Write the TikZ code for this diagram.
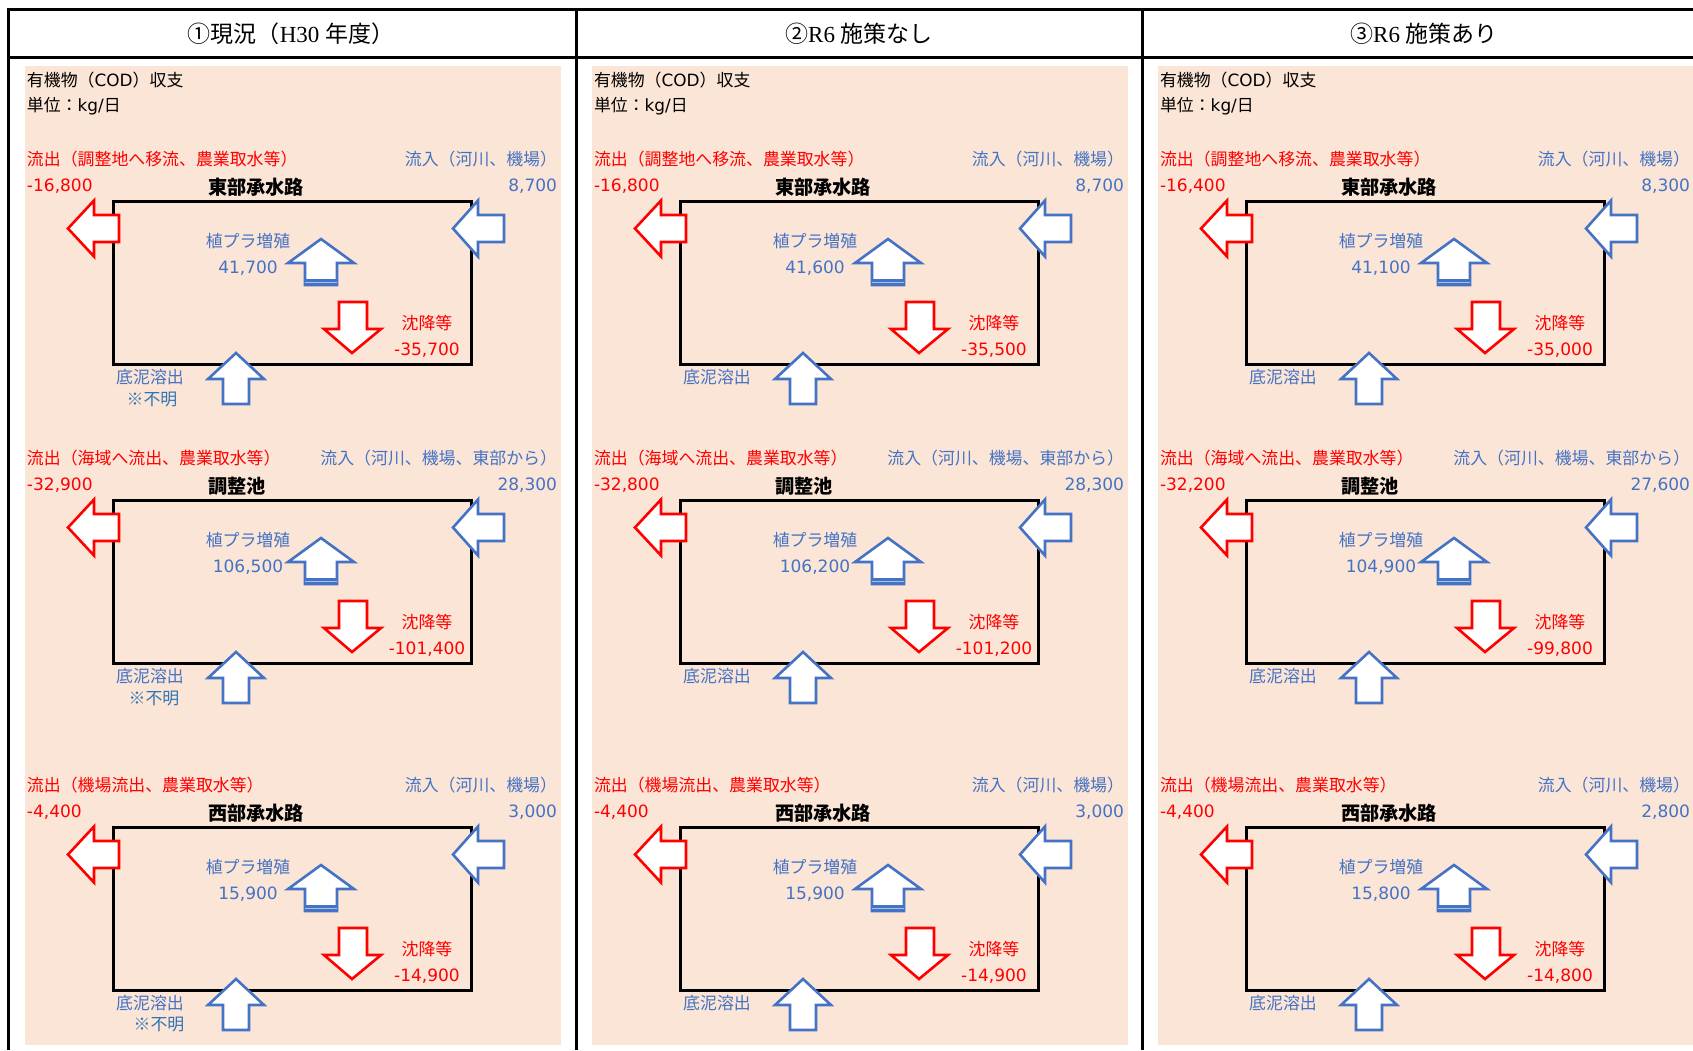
\documentclass[tikz,border=0pt]{standalone}
\usepackage{fontspec}
\setmainfont{DejaVu Sans}
\newfontfamily\cjk{Noto Sans CJK JP}
\newfontfamily\serifrm{Liberation Serif}
\definecolor{peach}{HTML}{FBE5D6}
\definecolor{ored}{HTML}{FF0000}
\definecolor{oblue}{HTML}{4472C4}
\definecolor{fumei}{HTML}{2E75B6}
\tikzset{
  every node/.style={inner sep=0pt, outer sep=0pt},
  lbl/.style={font=\cjk\fontsize{16.9}{20}\selectfont},
  num/.style={font=\fontsize{17}{20}\selectfont},
  ttl/.style={font=\cjk\bfseries\fontsize{19.2}{22}\selectfont},
  hdr/.style={font=\fontsize{23}{26}\selectfont},
  gridline/.style={line width=3pt, black},
  redarrow/.style={draw=ored, fill=white, line width=2.6pt, line join=miter},
  bluearrow/.style={draw=oblue, fill=white, line width=2.6pt, line join=miter},
  boxnode/.style={draw, line width=3pt, minimum width=358pt, minimum height=163pt, anchor=north west},
}
% #1 prefix, #2 outflow label, #3 inflow label, #4 outflow num, #5 inflow num,
% #6 title, #7 plankton num, #8 settling num
\newcommand\budget[8]{%
  \node[lbl, text=ored, anchor=west] (#1-outl) at (27,159) {#2};
  \node[lbl, text=oblue, anchor=east] (#1-inl) at (557,159) {#3};
  \node[num, text=ored, anchor=west] (#1-outn) at (27,186) {#4};
  \node[num, text=oblue, anchor=east] (#1-inn) at (557,186) {#5};
  \node[ttl, anchor=west] (#1-ttl) at (208,187) {#6};
  \node[boxnode] (#1-box) at (113,201) {};
  % outflow (left, red)
  \draw[redarrow] (68,228.5) -- (94,200.5) -- (94,215) -- (119,215) -- (119,242) -- (94,242) -- (94,256.5) -- cycle;
  % inflow (right, blue)
  \draw[bluearrow] (453,228.5) -- (478,200.5) -- (478,215) -- (504,215) -- (504,242) -- (478,242) -- (478,256.5) -- cycle;
  % plankton growth (up, blue)
  \draw[bluearrow] (321,239) -- (354,263) -- (337,263) -- (337,285) -- (305,285) -- (305,263) -- (288,263) -- cycle;
  \fill[oblue] (304,279) rectangle (338,286);
  \draw[oblue!45!white, line width=0.8pt] (305,282.5) -- (337,282.5);
  % settling (down, red)
  \draw[redarrow] (339,302) -- (367,302) -- (367,329) -- (381,329) -- (352,353) -- (324,329) -- (339,329) -- cycle;
  % sediment release (up, blue)
  \draw[bluearrow] (236,353) -- (264,379) -- (249,379) -- (249,404) -- (223,404) -- (223,379) -- (208,379) -- cycle;
  \node[lbl, text=oblue] (#1-pl) at (248,241) {植プラ増殖};
  \node[num, text=oblue] (#1-pln) at (248,268) {#7};
  \node[lbl, text=ored] (#1-st) at (427,323) {沈降等};
  \node[num, text=ored] (#1-stn) at (427,350) {#8};
  \node[lbl, text=oblue] (#1-sd) at (150,377) {底泥溶出};
}
\newcommand\colhead[1]{%
  \node[lbl, anchor=west] (#1-t1) at (27,80) {有機物（\fontspec{DejaVu Sans}COD\cjk）収支};
  \node[lbl, anchor=west] (#1-t2) at (27,106) {単位：\fontspec{DejaVu Sans}kg/\cjk 日};
}
\begin{document}
\begin{tikzpicture}[x=1pt, y=-1pt]
  \useasboundingbox (0,0) rectangle (1693,1050);
  \fill[white] (0,0) rectangle (1693,1050);
  % peach backgrounds
  \fill[peach] (25,66) rectangle (561,1045);
  \fill[peach] (592,66) rectangle (1128,1045);
  \fill[peach] (1158,66) rectangle (1693,1045);
  % table lines
  \draw[gridline] (6.5,9) -- (1693,9);
  \draw[gridline] (8,57) -- (1693,57);
  \draw[gridline] (8,7.5) -- (8,1050);
  \draw[gridline] (576,9) -- (576,1050);
  \draw[gridline] (1142,9) -- (1142,1050);
  % headers
  \node[hdr] (h1) at (291,34) {\cjk ①現況（\serifrm H30 \cjk 年度）};
  \node[hdr] (h2) at (859,34) {\cjk ②\serifrm R6 \cjk 施策なし};
  \node[hdr] (h3) at (1424,34) {\cjk ③\serifrm R6 \cjk 施策あり};
  % column 1
  \colhead{c1}
  \budget{a1}{流出（調整地へ移流、農業取水等）}{流入（河川、機場）}{-16,800}{8,700}{東部承水路}{41,700}{-35,700}
  \begin{scope}[shift={(0,299)}]
    \budget{a2}{流出（海域へ流出、農業取水等）}{流入（河川、機場、東部から）}{-32,900}{28,300}{調整池}{106,500}{-101,400}
  \end{scope}
  \begin{scope}[shift={(0,626)}]
    \budget{a3}{流出（機場流出、農業取水等）}{流入（河川、機場）}{-4,400}{3,000}{西部承水路}{15,900}{-14,900}
  \end{scope}
  \node[lbl, text=fumei] (f1) at (152,399) {※不明};
  \node[lbl, text=fumei] (f2) at (154,698) {※不明};
  \node[lbl, text=fumei] (f3) at (159,1024) {※不明};
  % column 2
  \begin{scope}[shift={(567,0)}]
    \colhead{c2}
    \budget{b1}{流出（調整地へ移流、農業取水等）}{流入（河川、機場）}{-16,800}{8,700}{東部承水路}{41,600}{-35,500}
  \end{scope}
  \begin{scope}[shift={(567,299)}]
    \budget{b2}{流出（海域へ流出、農業取水等）}{流入（河川、機場、東部から）}{-32,800}{28,300}{調整池}{106,200}{-101,200}
  \end{scope}
  \begin{scope}[shift={(567,626)}]
    \budget{b3}{流出（機場流出、農業取水等）}{流入（河川、機場）}{-4,400}{3,000}{西部承水路}{15,900}{-14,900}
  \end{scope}
  % column 3
  \begin{scope}[shift={(1133,0)}]
    \colhead{c3}
    \budget{d1}{流出（調整地へ移流、農業取水等）}{流入（河川、機場）}{-16,400}{8,300}{東部承水路}{41,100}{-35,000}
  \end{scope}
  \begin{scope}[shift={(1133,299)}]
    \budget{d2}{流出（海域へ流出、農業取水等）}{流入（河川、機場、東部から）}{-32,200}{27,600}{調整池}{104,900}{-99,800}
  \end{scope}
  \begin{scope}[shift={(1133,626)}]
    \budget{d3}{流出（機場流出、農業取水等）}{流入（河川、機場）}{-4,400}{2,800}{西部承水路}{15,800}{-14,800}
  \end{scope}
\end{tikzpicture}
\end{document}
